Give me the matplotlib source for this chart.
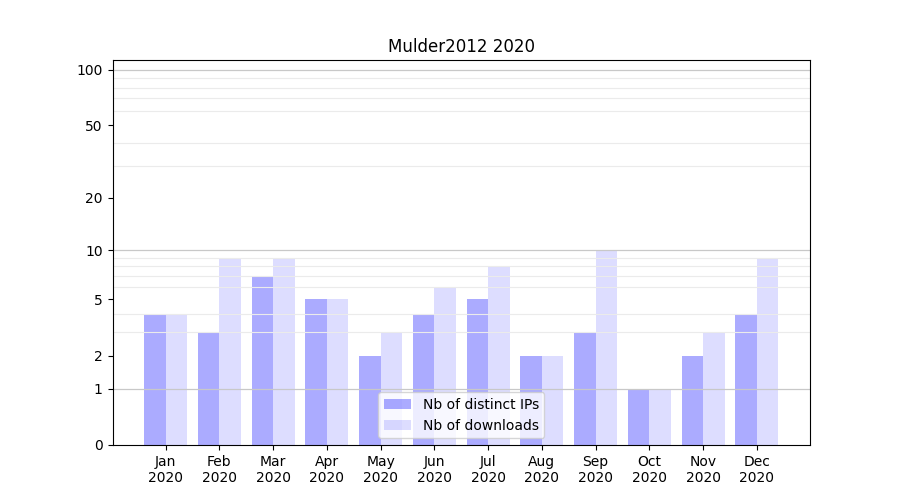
import numpy as np
import matplotlib
matplotlib.use("Agg")
import matplotlib.pyplot as plt
from matplotlib.ticker import FixedLocator, NullFormatter

months = ["Jan", "Feb", "Mar", "Apr", "May", "Jun", "Jul", "Aug", "Sep", "Oct", "Nov", "Dec"]
year = "2020"
distinct_ips = [4, 3, 7, 5, 2, 4, 5, 2, 3, 1, 2, 4]
downloads = [4, 9, 9, 5, 3, 6, 8, 2, 10, 1, 3, 9]
yticks = [0, 1, 2, 5, 10, 20, 50, 100]
minor_grid = [2, 3, 4, 5, 6, 7, 8, 9, 20, 30, 40, 50, 60, 70, 80, 90]
major_grid = [1, 10, 100]

fig, ax = plt.subplots(figsize=(9, 5), dpi=100)
x = np.arange(len(months))
w = 0.4
ax.bar(x, distinct_ips, width=-w, align="edge", color="blue", alpha=0.33, label="Nb of distinct IPs")
ax.bar(x, downloads, width=w, align="edge", color="blue", alpha=0.135, label="Nb of downloads")

ax.set_yscale("function", functions=(lambda v: np.log10(1 + np.clip(v, 0, None)), lambda v: 10 ** v - 1))
ax.set_ylim(0, 113)
ax.yaxis.set_major_locator(FixedLocator(yticks))
ax.set_yticklabels([str(t) for t in yticks])
ax.yaxis.set_minor_locator(FixedLocator(minor_grid))
ax.yaxis.set_minor_formatter(NullFormatter())
ax.tick_params(axis="y", which="minor", length=0)
ax.grid(True, which="minor", axis="y", color="#ebebeb", linewidth=0.8)
for g in major_grid:
    ax.axhline(g, color="#c8c8c8", linewidth=0.9, zorder=1.5)

ax.set_xticks(x)
ax.set_xticklabels([f"{m}\n{year}" for m in months])
ax.set_title("Mulder2012 2020")
ax.legend(loc="lower center")
fig.savefig("out.png")
